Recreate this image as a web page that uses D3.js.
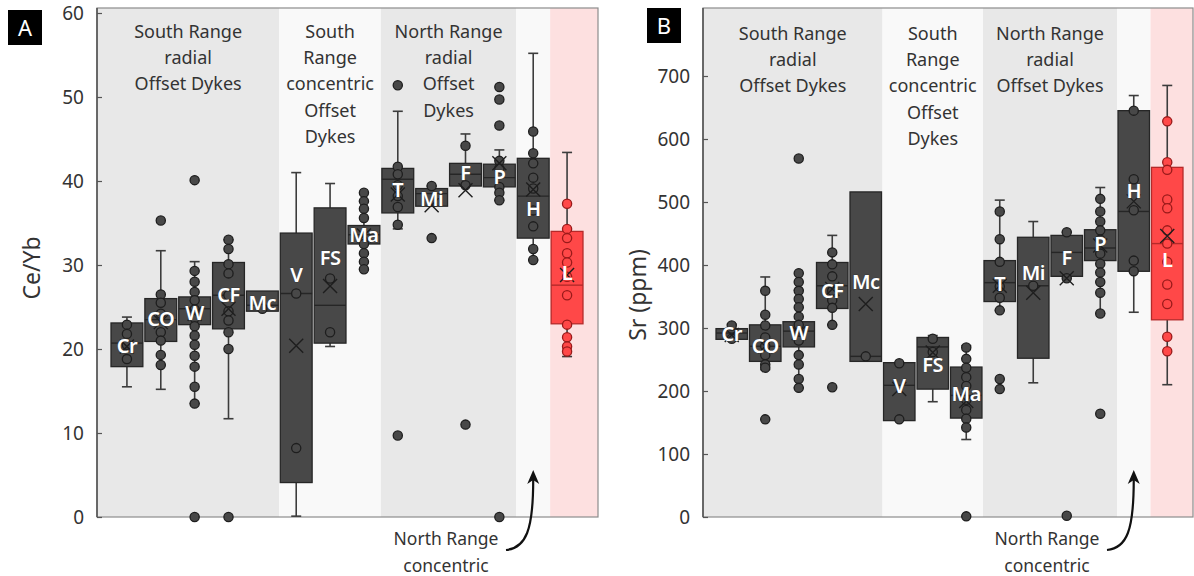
<!DOCTYPE html>
<html>
<head>
<meta charset="utf-8">
<script src="https://cdn.jsdelivr.net/npm/d3@7"></script>
<style>
  body { margin: 0; background: #fff; }
  text { font-family: "Noto Sans", "Open Sans", sans-serif; }
</style>
</head>
<body>
<svg id="chart" width="1194" height="576"></svg>
<script>
// categories (dykes), shared by both panels
var dykes = ['Cr', 'CO', 'W', 'CF', 'Mc', 'V', 'FS', 'Ma', 'T', 'Mi', 'F', 'P', 'H', 'L'];
// which background group each dyke belongs to
var dykeGroup = [0, 0, 0, 0, 0, 1, 1, 1, 2, 2, 2, 2, 3, 4];

// panel A: Ce/Yb
var ceQ1   = [17.9, 20.9, 22.9, 22.4, 24.5, 4.1, 20.7, 32.5, 36.2, 37.0, 39.4, 39.3, 33.2, 23.0];
var ceMed  = [20.7, 23.5, 24.8, 26.4, 25.2, 26.6, 25.2, 33.6, 40.2, 38.5, 40.8, 40.4, 38.2, 27.6];
var ceQ3   = [23.1, 26.0, 26.2, 30.3, 26.9, 33.8, 36.8, 34.7, 41.5, 39.1, 42.1, 42.0, 42.7, 34.0];
var ceLo   = [15.5, 15.2, 13.5, 11.7, null, 0.1, 20.3, 29.5, 34.3, 37.0, 39.4, 37.7, 30.6, 19.1];
var ceHi   = [23.8, 31.7, 30.4, 33.0, null, 41.0, 39.7, 37.6, 48.3, 39.4, 45.6, 43.7, 55.2, 43.4];
var ceMean = [20.3, 23.2, 24.2, 24.8, null, 20.4, 27.5, 33.5, 38.4, 37.1, 38.9, 42.1, 39.0, 28.8];
var cePts  = [
  [22.9, 21.8, 20.5, 18.8],
  [35.3, 26.5, 25.5, 24.2, 22.0, 21.0, 19.3, 18.1],
  [40.1, 29.3, 28.0, 26.8, 25.8, 24.7, 23.7, 22.7, 21.6, 20.5, 19.2, 17.9, 15.5, 13.5, 0],
  [33.0, 31.9, 30.1, 29.0, 26.4, 24.5, 23.4, 22.0, 20.0, 0],
  [24.8],
  [26.6, 8.2],
  [28.4, 22.0],
  [38.6, 37.6, 36.7, 35.6, 32.5, 31.4, 30.4, 29.5],
  [51.4, 41.7, 40.8, 39.5, 38.2, 36.9, 34.8, 9.7],
  [39.4, 33.2],
  [44.2, 39.5, 11.0],
  [51.2, 49.7, 46.6, 42.4, 41.5, 39.3, 38.6, 37.7, 0],
  [45.9, 43.3, 42.1, 40.4, 39.1, 36.5, 34.6, 31.9, 30.6],
  [37.3, 34.3, 33.2, 31.4, 30.3, 28.6, 26.4, 22.9, 21.4, 20.3, 19.7]
];
var ceLabelAt = [20.4, 23.6, 24.3, 26.4, 25.5, 28.8, 30.8, 33.6, 38.9, 37.8, 40.9, 40.5, 36.7, 29.0];
var ceTicks = [0, 10, 20, 30, 40, 50, 60];

// panel B: Sr (ppm)
var srQ1   = [282, 247, 270, 331, 247, 153, 203, 157, 342, 252, 382, 407, 390, 313];
var srMed  = [292, 271, 295, 367, 255, 209, 270, 193, 372, 367, 420, 427, 485, 434];
var srQ3   = [299, 305, 310, 404, 516, 245, 285, 238, 407, 444, 447, 456, 645, 555];
var srLo   = [283, 234, 205, 305, null, null, 183, 123, 328, 213, 382, 323, 325, 210];
var srHi   = [306, 381, 360, 447, null, null, 288, 272, 503, 469, 452, 523, 669, 685];
var srMean = [289, 271, 292, 362, 338, 203, 261, 184, 367, 356, 379, 431, 501, 446];
var srPts  = [
  [304, 283],
  [359, 321, 304, 285, 271, 257, 242, 237, 155],
  [569, 387, 373, 359, 346, 333, 318, 305, 292, 280, 257, 242, 219, 205],
  [420, 401, 382, 359, 344, 332, 305, 206],
  [255],
  [244, 155],
  [283, 262],
  [269, 251, 237, 222, 208, 186, 170, 156, 142, 1],
  [485, 441, 405, 366, 348, 328, 219, 203],
  [367],
  [452, 379, 2],
  [505, 485, 469, 455, 440, 418, 402, 388, 373, 356, 323, 164],
  [645, 536, 487, 407, 390],
  [628, 563, 551, 504, 490, 455, 434, 405, 369, 338, 286, 263]
];
var srLabelAt = [290, 271, 292, 359, 373, 208, 242, 196, 370, 388, 411, 434, 517, 408];
var srTicks = [0, 100, 200, 300, 400, 500, 600, 700];

var groupTitlesA = [
  ['South Range', 'radial', 'Offset Dykes'],
  ['South', 'Range', 'concentric', 'Offset', 'Dykes'],
  ['North Range', 'radial', 'Offset', 'Dykes'],
  [], []
];
var groupTitlesB = [
  ['South Range', 'radial', 'Offset Dykes'],
  ['South', 'Range', 'concentric', 'Offset', 'Dykes'],
  ['North Range', 'radial', 'Offset Dykes'],
  [], []
];
var noteLines = ['North Range', 'concentric'];

var svg = d3.select('#chart');
var groupFill = ['#e8e8e8', '#f9f9f9', '#e8e8e8', '#f9f9f9', '#fde0e0'];

function drawPanel(o) {
  var top = 8, bottom = 517;
  var g = svg.append('g');

  var x = d3.scaleBand().domain(dykes).range([o.bandLeft, o.bandRight]).padding(0);
  var y = d3.scaleLinear().domain([0, o.max]).range([bottom, 13]);
  var bw = x.bandwidth() * 0.94;

  // background bands per group
  for (var k = 0; k < groupFill.length; k++) {
    var members = dykes.filter(function(d, i) { return dykeGroup[i] === k; });
    var gx0 = k === 0 ? o.left : x(members[0]);
    var gx1 = k === groupFill.length - 1 ? o.right : x(members[members.length - 1]) + x.bandwidth();
    g.append('rect')
      .attr('x', gx0).attr('y', top)
      .attr('width', gx1 - gx0).attr('height', bottom - top)
      .style('fill', groupFill[k]);

    var lines = o.titles[k];
    g.append('g').selectAll('text').data(lines).enter().append('text')
      .attr('x', (gx0 + gx1) / 2)
      .attr('y', function(d, j) { return o.titleY + j * 26.2; })
      .attr('text-anchor', 'middle')
      .style('font-size', '18px')
      .style('fill', '#333')
      .text(function(d) { return d; });
  }

  // frame
  g.append('rect')
    .attr('x', o.left).attr('y', top)
    .attr('width', o.right - o.left).attr('height', bottom - top)
    .style('fill', 'none').style('stroke', '#8c8c8c').style('stroke-width', 1.2);

  // y axis
  var yAxis = g.append('g')
    .attr('transform', 'translate(' + o.left + ',0)')
    .call(d3.axisLeft(y).tickValues(o.ticks).tickSize(-5).tickPadding(13));
  yAxis.select('.domain').attr('d', 'M0,' + top + 'V' + bottom).style('stroke', '#555').style('stroke-width', 1.6);
  yAxis.selectAll('.tick line').style('stroke', '#555').style('stroke-width', 1.2);
  yAxis.selectAll('text').style('font-size', '19px').style('fill', '#333')
    .style('font-family', '"Noto Sans", sans-serif');

  g.append('text')
    .attr('transform', 'translate(' + o.titleX + ',' + o.titleMid + ') rotate(-90)')
    .attr('text-anchor', 'middle')
    .attr('dy', '0.35em')
    .style('font-size', '23px').style('fill', '#333')
    .text(o.yTitle);

  dykes.forEach(function(d, i) {
    var cx = x(d) + x.bandwidth() / 2;
    var red = d === 'L';
    var boxFill = red ? '#ff4848' : '#484848';
    var boxStroke = red ? '#b52a2a' : '#262626';
    var bg = g.append('g');

    // whiskers
    if (o.lo[i] !== null) {
      bg.append('line').attr('x1', cx).attr('x2', cx)
        .attr('y1', y(o.lo[i])).attr('y2', y(o.q1[i]))
        .style('stroke', '#3c3c3c').style('stroke-width', 1.6);
      bg.append('line').attr('x1', cx - 5).attr('x2', cx + 5)
        .attr('y1', y(o.lo[i])).attr('y2', y(o.lo[i]))
        .style('stroke', '#3c3c3c').style('stroke-width', 1.6);
    }
    if (o.hi[i] !== null) {
      bg.append('line').attr('x1', cx).attr('x2', cx)
        .attr('y1', y(o.hi[i])).attr('y2', y(o.q3[i]))
        .style('stroke', '#3c3c3c').style('stroke-width', 1.6);
      bg.append('line').attr('x1', cx - 5).attr('x2', cx + 5)
        .attr('y1', y(o.hi[i])).attr('y2', y(o.hi[i]))
        .style('stroke', '#3c3c3c').style('stroke-width', 1.6);
    }

    // box
    bg.append('rect')
      .attr('x', cx - bw / 2).attr('y', y(o.q3[i]))
      .attr('width', bw).attr('height', y(o.q1[i]) - y(o.q3[i]))
      .style('fill', boxFill).style('stroke', boxStroke).style('stroke-width', 1.3);
    bg.append('line')
      .attr('x1', cx - bw / 2).attr('x2', cx + bw / 2)
      .attr('y1', y(o.med[i])).attr('y2', y(o.med[i]))
      .style('stroke', boxStroke).style('stroke-width', 1.4);

    // points
    bg.selectAll('circle').data(o.pts[i]).enter().append('circle')
      .attr('cx', cx).attr('cy', function(v) { return y(v); })
      .attr('r', 4.6)
      .style('fill', boxFill)
      .style('stroke', red ? '#9a1a1a' : '#1e1e1e')
      .style('stroke-width', 1.3);

    // mean marker
    if (o.mean[i] !== null) {
      var my = y(o.mean[i]);
      bg.append('path')
        .attr('d', 'M' + (cx - 7) + ',' + (my - 7) + 'L' + (cx + 7) + ',' + (my + 7) +
                   'M' + (cx - 7) + ',' + (my + 7) + 'L' + (cx + 7) + ',' + (my - 7))
        .style('stroke', '#1e1e1e').style('stroke-width', 1.4).style('fill', 'none');
    }

    // label
    bg.append('text')
      .attr('x', cx).attr('y', y(o.labelAt[i]))
      .attr('dy', '0.35em')
      .attr('text-anchor', 'middle')
      .style('font-size', '20px').style('font-weight', 600)
      .style('letter-spacing', '-0.5px')
      .style('fill', '#fff')
      .style('stroke', red ? '#ff4848' : '#3a3a3a').style('stroke-width', 0.8)
      .style('paint-order', 'stroke')
      .text(d);
  });

  // note with arrow under the North Range concentric band
  var hx = x('H') + x.bandwidth() / 2;
  g.append('g').selectAll('text').data(noteLines).enter().append('text')
    .attr('x', o.noteX)
    .attr('y', function(d, j) { return 545 + j * 27; })
    .attr('text-anchor', 'middle')
    .style('font-size', '17.5px').style('fill', '#333')
    .text(function(d) { return d; });
  var sx = o.noteX + 60, tipY = 470;
  g.append('path')
    .attr('d', 'M' + sx + ',550 C' + (sx + 20) + ',548 ' + (hx) + ',530 ' + (hx) + ',' + (tipY + 10))
    .style('fill', 'none').style('stroke', '#111').style('stroke-width', 2.2);
  g.append('path')
    .attr('d', 'M' + hx + ',' + tipY + 'L' + (hx + 6) + ',' + (tipY + 14) + 'L' + hx + ',' + (tipY + 10) + 'L' + (hx - 6) + ',' + (tipY + 14) + 'Z')
    .style('fill', '#111');

  // panel letter
  g.append('rect').attr('x', o.letterX).attr('y', o.letterY).attr('width', 34).attr('height', 35).style('fill', '#000');
  g.append('text').attr('x', o.letterX + 17).attr('y', o.letterY + 18).attr('dy', '0.35em')
    .attr('text-anchor', 'middle').style('font-size', '22px').style('fill', '#fff').text(o.letter);
}

drawPanel({
  left: 97, right: 598, bandLeft: 110, bandRight: 584,
  max: 60, ticks: ceTicks, yTitle: 'Ce/Yb', titleX: 32, titleMid: 268,
  q1: ceQ1, med: ceMed, q3: ceQ3, lo: ceLo, hi: ceHi, mean: ceMean, pts: cePts, labelAt: ceLabelAt,
  titles: groupTitlesA, titleY: 38,
  noteX: 446, letter: 'A', letterX: 8, letterY: 10
});

drawPanel({
  left: 703, right: 1193, bandLeft: 715, bandRight: 1184,
  max: 800, ticks: srTicks, yTitle: 'Sr (ppm)', titleX: 638, titleMid: 295,
  q1: srQ1, med: srMed, q3: srQ3, lo: srLo, hi: srHi, mean: srMean, pts: srPts, labelAt: srLabelAt,
  titles: groupTitlesB, titleY: 40,
  noteX: 1047, letter: 'B', letterX: 647, letterY: 8
});
</script>
</body>
</html>
